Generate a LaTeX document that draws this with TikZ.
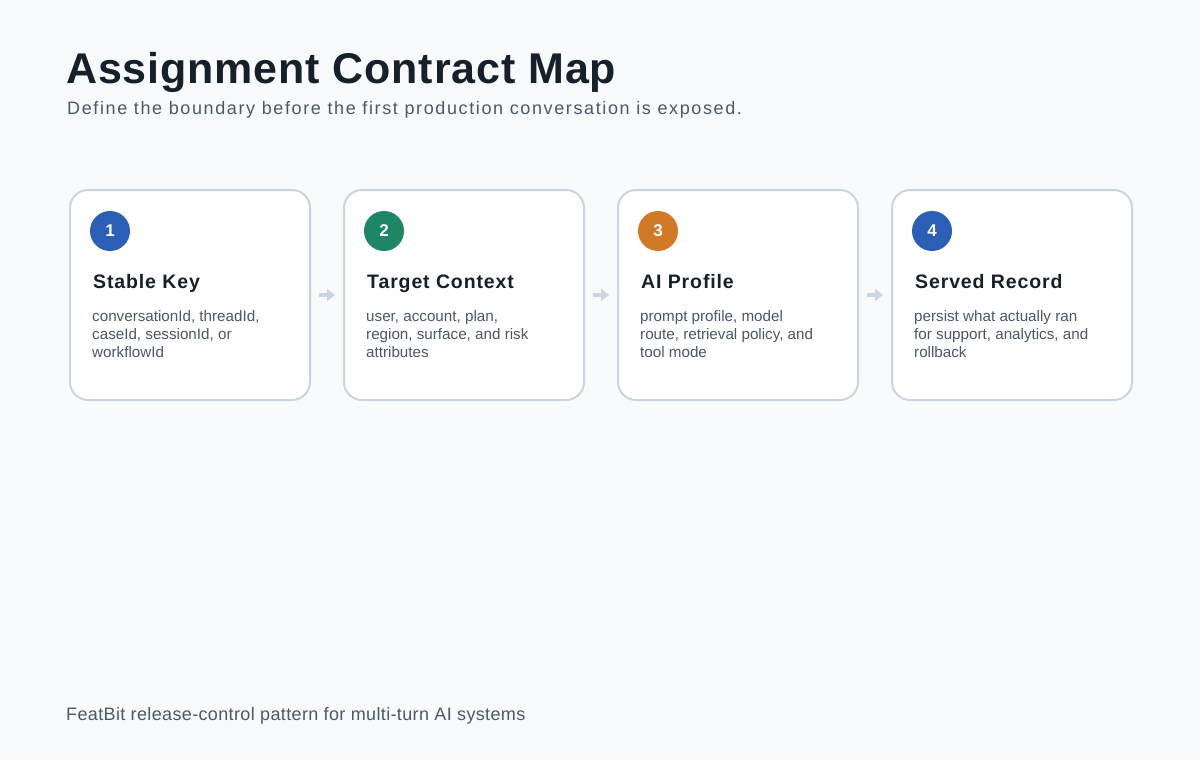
\documentclass[tikz,border=0pt]{standalone}
\usepackage{fontspec}
\setmainfont{Liberation Sans}
\newfontfamily\headfont[LetterSpace=2]{Liberation Sans}
\newfontfamily\subfont[LetterSpace=9]{Liberation Sans}
\newfontfamily\titlefont[LetterSpace=4.5]{Liberation Sans}
\usepackage{tikz}
\usetikzlibrary{arrows.meta,calc,positioning}

\definecolor{pagebg}{HTML}{F8FAFC}
\definecolor{ink}{HTML}{16202B}
\definecolor{muted}{HTML}{4B5869}
\definecolor{edge}{HTML}{CBD5E1}
\definecolor{stepblue}{HTML}{2A5FB5}
\definecolor{stepgreen}{HTML}{1E8565}
\definecolor{steporange}{HTML}{D07A28}

\tikzset{
  card/.style={draw=edge, line width=2pt, fill=white, rounded corners=18pt,
    minimum width=240pt, minimum height=210pt, inner sep=0pt},
  badge/.style={circle, minimum size=40pt, inner sep=0pt, text=white,
    font=\fontsize{17}{17}\selectfont\bfseries},
  cardtitle/.style={anchor=base west, inner sep=0pt, text=ink,
    font=\titlefont\fontsize{19.5}{22}\selectfont\bfseries},
  carddesc/.style={anchor=base west, inner sep=0pt, text=muted, align=left,
    font=\fontsize{15.2}{18}\selectfont},
  flow/.style={edge, line width=3.5pt, -{Triangle[length=8pt,width=12pt]},
    shorten <=8pt, shorten >=8pt},
}

\begin{document}
\begin{tikzpicture}[x=1pt, y=-1pt]
\useasboundingbox[fill=pagebg] (0,0) rectangle (1200,760);
% heading
\node (head) [anchor=base west, inner sep=0pt, text=ink,
  font=\headfont\fontsize{43}{44}\selectfont\bfseries] at (66,84) {Assignment Contract Map};
\node (sub) [anchor=base west, inner sep=0pt, text=muted,
  font=\subfont\fontsize{18}{20}\selectfont] at (67,114)
  {Define the boundary before the first production conversation is exposed.};
% cards
\node[card] (k1) at (190,295) {};
\node[card] (k2) [right=32pt of k1] {};
\node[card] (k3) [right=32pt of k2] {};
\node[card] (k4) [right=32pt of k3] {};
% step 1
\node[badge, fill=stepblue] (b1) at ($(k1.north west)+(41,42)$) {1};
\node[cardtitle] (t1) at ($(k1.north west)+(24,99)$) {Stable Key};
\node[carddesc] (d1) at ($(k1.north west)+(23,168)$)
  {conversationId, threadId,\\caseId, sessionId, or\\workflowId};
% step 2
\node[badge, fill=stepgreen] (b2) at ($(k2.north west)+(41,42)$) {2};
\node[cardtitle] (t2) at ($(k2.north west)+(24,99)$) {Target Context};
\node[carddesc] (d2) at ($(k2.north west)+(23,168)$)
  {user, account, plan,\\region, surface, and risk\\attributes};
% step 3
\node[badge, fill=steporange] (b3) at ($(k3.north west)+(41,42)$) {3};
\node[cardtitle] (t3) at ($(k3.north west)+(24,99)$) {AI Profile};
\node[carddesc] (d3) at ($(k3.north west)+(23,168)$)
  {prompt profile, model\\route, retrieval policy, and\\tool mode};
% step 4
\node[badge, fill=stepblue] (b4) at ($(k4.north west)+(41,42)$) {4};
\node[cardtitle] (t4) at ($(k4.north west)+(24,99)$) {Served Record};
\node[carddesc] (d4) at ($(k4.north west)+(23,168)$)
  {persist what actually ran\\for support, analytics, and\\rollback};
% arrows
\draw[flow] (k1) -- (k2);
\draw[flow] (k2) -- (k3);
\draw[flow] (k3) -- (k4);
% footer
\node (foot) [anchor=base west, inner sep=0pt, text=muted,
  font=\headfont\fontsize{18}{18}\selectfont] at (66,720)
  {FeatBit release-control pattern for multi-turn AI systems};
\end{tikzpicture}
\end{document}
